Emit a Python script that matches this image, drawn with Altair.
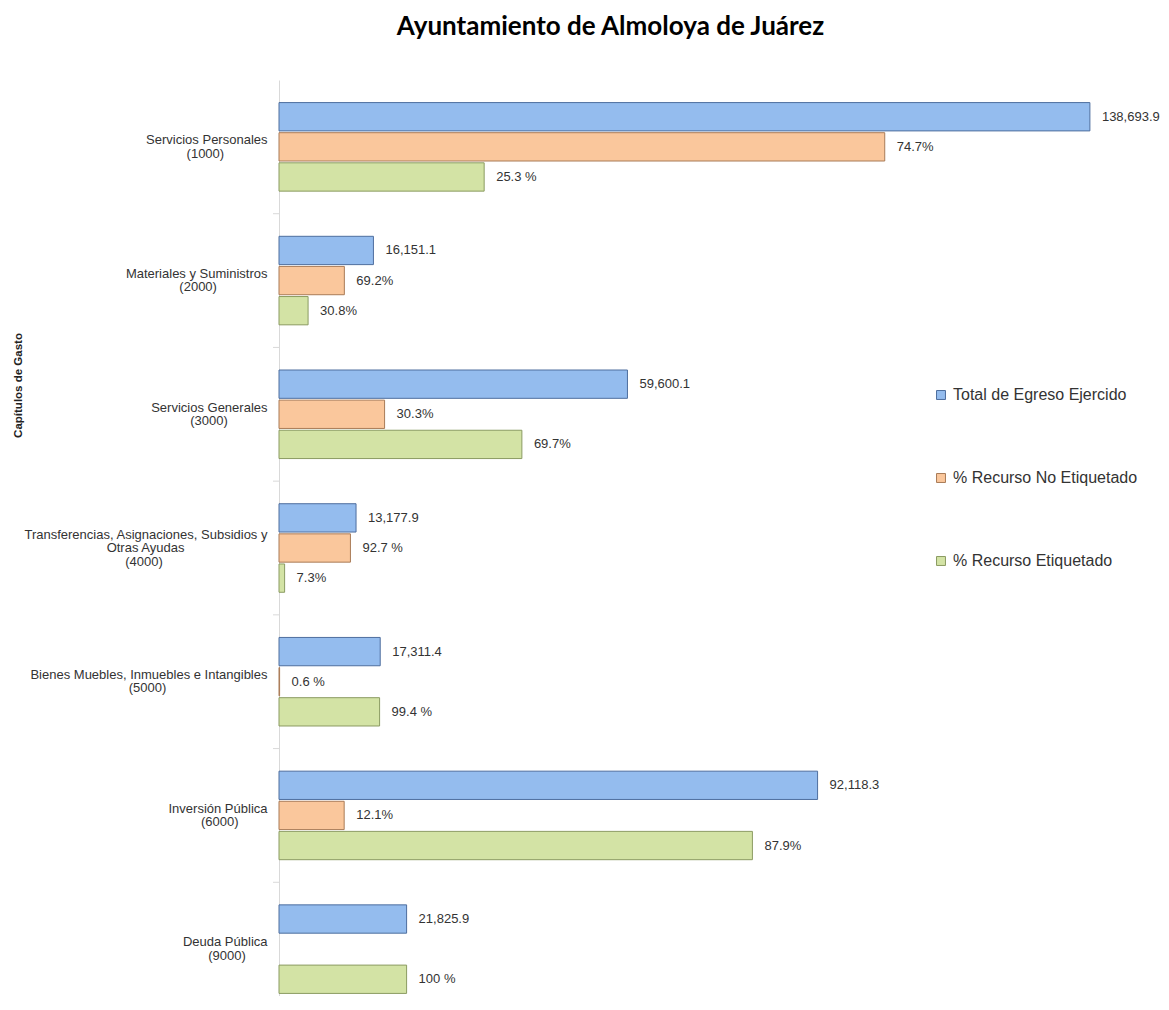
import altair as alt
import pandas as pd

# ---------------- data ----------------
category_lines = [
    ["Servicios Personales", "(1000)"],
    ["Materiales y Suministros", "(2000)"],
    ["Servicios Generales", "(3000)"],
    ["Transferencias, Asignaciones, Subsidios y", "Otras Ayudas", "(4000)"],
    ["Bienes Muebles, Inmuebles e Intangibles", "(5000)"],
    ["Inversión Pública", "(6000)"],
    ["Deuda Pública", "(9000)"],
]
series = ["Total de Egreso Ejercido", "% Recurso No Etiquetado", "% Recurso Etiquetado"]
totals = [138693.9, 16151.1, 59600.1, 13177.9, 17311.4, 92118.3, 21825.9]
pct_no_etiquetado = [74.7, 69.2, 30.3, 92.7, 0.6, 12.1, 0.0]
pct_etiquetado = [25.3, 30.8, 69.7, 7.3, 99.4, 87.9, 100.0]
labels_no_etiquetado = ["74.7%", "69.2%", "30.3%", "92.7 %", "0.6 %", "12.1%", ""]
labels_etiquetado = ["25.3 %", "30.8%", "69.7%", "7.3%", "99.4 %", "87.9%", "100 %"]

fills = ["#94BCEE", "#FAC79C", "#D3E3A5"]
strokes = ["#4E6E9E", "#A97B57", "#8B9B62"]

# ---- centre the lines of each multi-line category label (Arial metrics) ----
_W = {' ': 278, '\u00a0': 278, '(': 333, ')': 333, ',': 278, '.': 278,
      'a': 556, 'b': 556, 'c': 500, 'd': 556, 'e': 556, 'f': 278, 'g': 556,
      'h': 556, 'i': 222, 'j': 222, 'k': 500, 'l': 222, 'm': 833, 'n': 556,
      'o': 556, 'p': 556, 'q': 556, 'r': 333, 's': 500, 't': 278, 'u': 556,
      'v': 500, 'w': 722, 'x': 500, 'y': 500, 'z': 500, 'ó': 556, 'ú': 556,
      'A': 667, 'B': 667, 'C': 722, 'D': 722, 'E': 667, 'G': 778, 'I': 278,
      'M': 833, 'O': 778, 'P': 667, 'S': 667, 'T': 611}


def _tw(s):
    return sum(_W.get(ch, 556) for ch in s)


def centred(lines):
    mx = max(_tw(l) for l in lines)
    out = []
    for l in lines:
        n = int(round((mx - _tw(l)) / 2 / 278))
        # trailing no-break spaces, closed by a zero-width space so they are not trimmed
        out.append(l + ("\u00a0" * n + "\u200b" if n > 0 else ""))
    return "|".join(out)


cat_keys = [centred(c) for c in category_lines]

rows = []
for i, cat in enumerate(cat_keys):
    t = totals[i]
    rows.append({"cat": cat, "series": series[0], "value": t, "label": f"{t:,.1f}"})
    if pct_no_etiquetado[i] > 0:
        rows.append({"cat": cat, "series": series[1],
                     "value": t * pct_no_etiquetado[i] / 100, "label": labels_no_etiquetado[i]})
    if pct_etiquetado[i] > 0:
        rows.append({"cat": cat, "series": series[2],
                     "value": t * pct_etiquetado[i] / 100, "label": labels_etiquetado[i]})
df = pd.DataFrame(rows)

FONT = "Liberation Sans"
LINE_H = 13.5

y_enc = alt.Y(
    "cat:N",
    sort=cat_keys,
    scale=alt.Scale(range=[0, 936], paddingInner=0, paddingOuter=0),
    axis=alt.Axis(
        domain=True, domainColor="#D9D9D9", domainWidth=1,
        ticks=False, tickSize=0, labelPadding=12,
        labelFont=FONT, labelFontSize=13, labelColor="#333333",
        labelLimit=400, labelLineHeight=LINE_H,
        labelExpr="split(datum.label, '|')",
        labelBaseline="middle", labelAlign="right",
        labelOffset={
            "condition": {"test": "length(split(datum.label, '|')) == 3", "value": -LINE_H},
            "value": -LINE_H / 2,
        },
        titleFont=FONT, titleFontSize=11.5, titleFontWeight="bold", titleColor="#222222",
        titleAngle=270, titleX=-261, titleY=305, titleAlign="center", titleBaseline="middle",
    ),
    title="Capítulos de Gasto",
)
x_enc = alt.X("value:Q", scale=alt.Scale(domain=[0, 150000], nice=False, zero=True), axis=None)
yoff_enc = alt.YOffset("series:N", sort=series,
                       scale=alt.Scale(paddingInner=0.06, paddingOuter=0.75))

leg = alt.Legend(
    orient="none", legendX=654, legendY=307, title=None,
    symbolType="square", symbolSize=80, symbolStrokeWidth=1,
    labelFont=FONT, labelFontSize=16, labelColor="#333333", labelLimit=400,
    rowPadding=67, labelOffset=4, padding=0,
)

base = alt.Chart(df)

bars = base.mark_bar(strokeWidth=1).encode(
    x=x_enc,
    y=y_enc,
    yOffset=yoff_enc,
    fill=alt.Fill("series:N", sort=series, scale=alt.Scale(domain=series, range=fills), legend=leg),
    stroke=alt.Stroke("series:N", sort=series, scale=alt.Scale(domain=series, range=strokes), legend=leg),
)

texts = base.mark_text(align="left", baseline="middle", dx=12, font=FONT,
                       fontSize=13, color="#333333").encode(
    x=x_enc,
    y=y_enc,
    yOffset=yoff_enc,
    text="label:N",
)

ticks = alt.Chart(pd.DataFrame({"cat": cat_keys[1:]})).mark_rule(color="#D9D9D9", strokeWidth=1).encode(
    y=alt.Y("cat:N", sort=cat_keys, bandPosition=0),
    x=alt.value(-6),
    x2=alt.value(0),
)

chart = alt.layer(bars, texts, ticks).properties(
    width=877,
    height=916,
    autosize=alt.AutoSizeParams(type="none"),
    padding={"left": 271, "top": 72, "right": 5, "bottom": 0},
    title=alt.TitleParams(
        "Ayuntamiento de Almoloya de Juárez",
        font="Lato", fontSize=26, fontWeight="bold", color="#000000",
        anchor="middle", frame="group", dx=-107, offset=19, baseline="alphabetic",
    ),
    background="white",
).configure_view(strokeWidth=0)

chart.save("out.html", embed_options={"renderer": "svg", "actions": False})
